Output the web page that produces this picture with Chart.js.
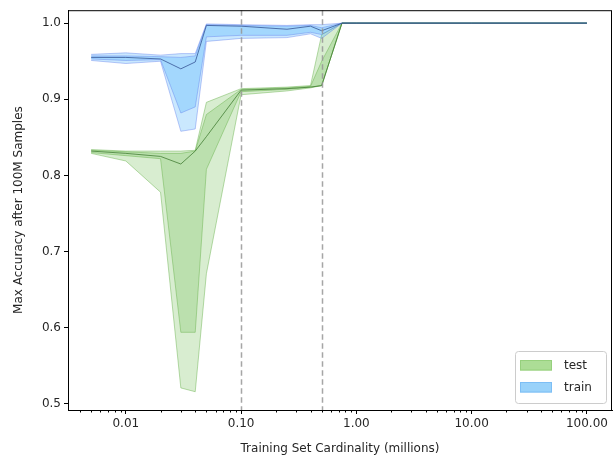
<!DOCTYPE html>
<html>
<head>
<meta charset="utf-8">
<script src="https://cdn.jsdelivr.net/npm/chart.js@4.4.0/dist/chart.umd.min.js"></script>
<style>
html, body { margin: 0; padding: 0; background: #fff; }
#wrap { width: 613px; height: 458px; }
</style>
</head>
<body>
<div id="wrap"><canvas id="accuracyChart"></canvas></div>
<script>
// training set sizes (millions)
var cardinality = [0.005, 0.01, 0.02, 0.03, 0.04, 0.05, 0.1, 0.25, 0.4, 0.5, 0.75, 1, 10, 100];

// test accuracy: min / lower quartile / median / upper quartile / max
var testMin    = [0.829, 0.819, 0.778, 0.521, 0.516, 0.671, 0.906, 0.911, 0.915, 0.918, 1.0, 1.0, 1.0, 1.0];
var testQ25    = [0.830, 0.826, 0.822, 0.594, 0.594, 0.808, 0.910, 0.913, 0.916, 0.918, 1.0, 1.0, 1.0, 1.0];
var testMedian = [0.832, 0.829, 0.825, 0.815, 0.832, 0.851, 0.912, 0.914, 0.916, 0.918, 1.0, 1.0, 1.0, 1.0];
var testQ75    = [0.833, 0.831, 0.829, 0.829, 0.832, 0.880, 0.913, 0.915, 0.917, 0.950, 1.0, 1.0, 1.0, 1.0];
var testMax    = [0.834, 0.832, 0.832, 0.832, 0.833, 0.896, 0.914, 0.916, 0.918, 0.985, 1.0, 1.0, 1.0, 1.0];

// train accuracy
var trainMin    = [0.951, 0.947, 0.950, 0.858, 0.861, 0.976, 0.980, 0.981, 0.986, 0.980, 1.0, 1.0, 1.0, 1.0];
var trainQ25    = [0.953, 0.951, 0.952, 0.882, 0.890, 0.982, 0.984, 0.984, 0.988, 0.985, 1.0, 1.0, 1.0, 1.0];
var trainMedian = [0.955, 0.955, 0.953, 0.940, 0.949, 0.997, 0.996, 0.992, 0.996, 0.990, 1.0, 1.0, 1.0, 1.0];
var trainQ75    = [0.957, 0.957, 0.956, 0.955, 0.957, 0.998, 0.997, 0.996, 0.997, 0.994, 1.0, 1.0, 1.0, 1.0];
var trainMax    = [0.959, 0.961, 0.958, 0.960, 0.960, 0.999, 0.998, 0.997, 0.998, 0.998, 1.0, 1.0, 1.0, 1.0];

var xTicks = [0.01, 0.1, 1, 10, 100];
var yTicks = [0.5, 0.6, 0.7, 0.8, 0.9, 1.0];
var markers = [0.1, 0.5];
var legendLabels = ['test', 'train'];

var greenFill = 'rgba(110,190,80,0.27)';
var greenEdge = 'rgba(100,175,70,0.45)';
var greenLine = 'rgba(60,120,45,0.75)';
var blueFill = 'rgba(60,170,250,0.27)';
var blueEdge = 'rgba(90,120,235,0.4)';
var blueLine = 'rgba(55,85,150,0.8)';

function pts(values) {
    return cardinality.map(function (c, i) { return { x: c, y: values[i] }; });
}

function band(values, edge, fill, fillColor, order) {
    return {
        data: pts(values),
        borderColor: edge,
        borderWidth: 1,
        backgroundColor: fillColor || 'transparent',
        fill: fill,
        pointRadius: 0,
        tension: 0,
        order: order
    };
}

var markerLines = {
    id: 'markerLines',
    afterDatasetsDraw: function (chart) {
        var ctx = chart.ctx, area = chart.chartArea, xs = chart.scales.x;
        ctx.save();
        ctx.strokeStyle = 'rgba(150,150,150,0.85)';
        ctx.lineWidth = 1.5;
        ctx.setLineDash([5.5, 3.5]);
        markers.forEach(function (m) {
            var px = Math.round(xs.getPixelForValue(m)) + 0.5;
            ctx.beginPath();
            ctx.moveTo(px, area.top);
            ctx.lineTo(px, area.bottom);
            ctx.stroke();
        });
        ctx.restore();
    }
};

var frameAndTicks = {
    id: 'frameAndTicks',
    afterDraw: function (chart) {
        var ctx = chart.ctx, area = chart.chartArea, xs = chart.scales.x;
        ctx.save();
        ctx.strokeStyle = '#000';
        ctx.lineWidth = 1;
        ctx.strokeRect(area.left + 0.5, area.top + 0.5, area.right - area.left - 1, area.bottom - area.top);
        // minor log ticks
        ctx.beginPath();
        for (var e = -3; e <= 2; e++) {
            for (var k = 2; k <= 9; k++) {
                var v = k * Math.pow(10, e);
                if (v < xs.min || v > xs.max) continue;
                var px = Math.round(xs.getPixelForValue(v)) + 0.5;
                ctx.moveTo(px, area.bottom);
                ctx.lineTo(px, area.bottom + 2.5);
            }
        }
        ctx.stroke();
        ctx.restore();
    }
};

var boxLegend = {
    id: 'boxLegend',
    afterDraw: function (chart) {
        var ctx = chart.ctx, area = chart.chartArea;
        var w = 91, h = 52;
        var x0 = area.right - 6 - w, y0 = area.bottom - 7 - h;
        ctx.save();
        ctx.fillStyle = 'rgba(255,255,255,0.8)';
        ctx.strokeStyle = '#cccccc';
        ctx.lineWidth = 1;
        ctx.beginPath();
        ctx.roundRect(x0 + 0.5, y0 + 0.5, w, h, 3);
        ctx.fill();
        ctx.stroke();
        var fills = ['rgb(172,221,150)', 'rgb(153,210,250)'];
        var edges = ['rgb(150,208,125)', 'rgb(125,190,245)'];
        ctx.font = '12px "DejaVu Sans"';
        ctx.textBaseline = 'middle';
        legendLabels.forEach(function (lab, i) {
            var cy = y0 + 14 + i * 22;
            ctx.fillStyle = fills[i];
            ctx.fillRect(x0 + 5, cy - 5, 32, 10.5);
            ctx.strokeStyle = edges[i];
            ctx.strokeRect(x0 + 5.5, cy - 4.5, 31, 9.5);
            ctx.fillStyle = '#262626';
            ctx.fillText(lab, x0 + 49, cy + 0.5);
        });
        ctx.restore();
    }
};

Chart.defaults.font.family = '"DejaVu Sans", sans-serif';
Chart.defaults.font.size = 12;
Chart.defaults.color = '#262626';

var ctx = document.getElementById('accuracyChart').getContext('2d');
var accuracyChart = new Chart(ctx, {
    type: 'line',
    data: {
        datasets: [
            band(testMin, greenEdge, false, null, 10),
            band(testMax, greenEdge, '-1', greenFill, 10),
            band(testQ25, greenEdge, false, null, 9),
            band(testQ75, greenEdge, '-1', greenFill, 9),
            band(trainMin, blueEdge, false, null, 8),
            band(trainMax, blueEdge, '-1', blueFill, 8),
            band(trainQ25, blueEdge, false, null, 7),
            band(trainQ75, blueEdge, '-1', blueFill, 7),
            { data: pts(testMedian), borderColor: greenLine, borderWidth: 1, pointRadius: 0, fill: false, tension: 0, order: 2 },
            { data: pts(trainMedian), borderColor: blueLine, borderWidth: 1, pointRadius: 0, fill: false, tension: 0, order: 1 }
        ]
    },
    options: {
        responsive: true,
        maintainAspectRatio: false,
        animation: false,
        layout: { padding: { top: 8, right: 1, left: 0, bottom: 2 } },
        plugins: {
            legend: { display: false },
            tooltip: { enabled: false }
        },
        scales: {
            x: {
                type: 'logarithmic',
                min: 0.00315,
                max: 165,
                afterBuildTicks: function (scale) {
                    scale.ticks = xTicks.map(function (v) { return { value: v }; });
                },
                afterFit: function (scale) { scale.height = 46; },
                ticks: {
                    padding: 3,
                    maxRotation: 0,
                    autoSkip: false,
                    callback: function (v) { return Number(v).toFixed(2); }
                },
                grid: { drawOnChartArea: false, tickLength: 4, color: '#000' },
                border: { color: '#000', width: 1 },
                title: { display: true, text: 'Training Set Cardinality (millions)', padding: { top: 2, bottom: 0 } }
            },
            y: {
                min: 0.492,
                max: 1.017,
                afterBuildTicks: function (scale) {
                    scale.ticks = yTicks.map(function (v) { return { value: v }; });
                },
                afterFit: function (scale) { scale.width = 68; },
                ticks: {
                    padding: 3,
                    callback: function (v) { return Number(v).toFixed(1); }
                },
                grid: { drawOnChartArea: false, tickLength: 4, color: '#000' },
                border: { color: '#000', width: 1 },
                title: { display: true, text: 'Max Accuracy after 100M Samples', padding: { top: 12, bottom: 0 } }
            }
        }
    },
    plugins: [markerLines, frameAndTicks, boxLegend]
});
</script>
</body>
</html>
